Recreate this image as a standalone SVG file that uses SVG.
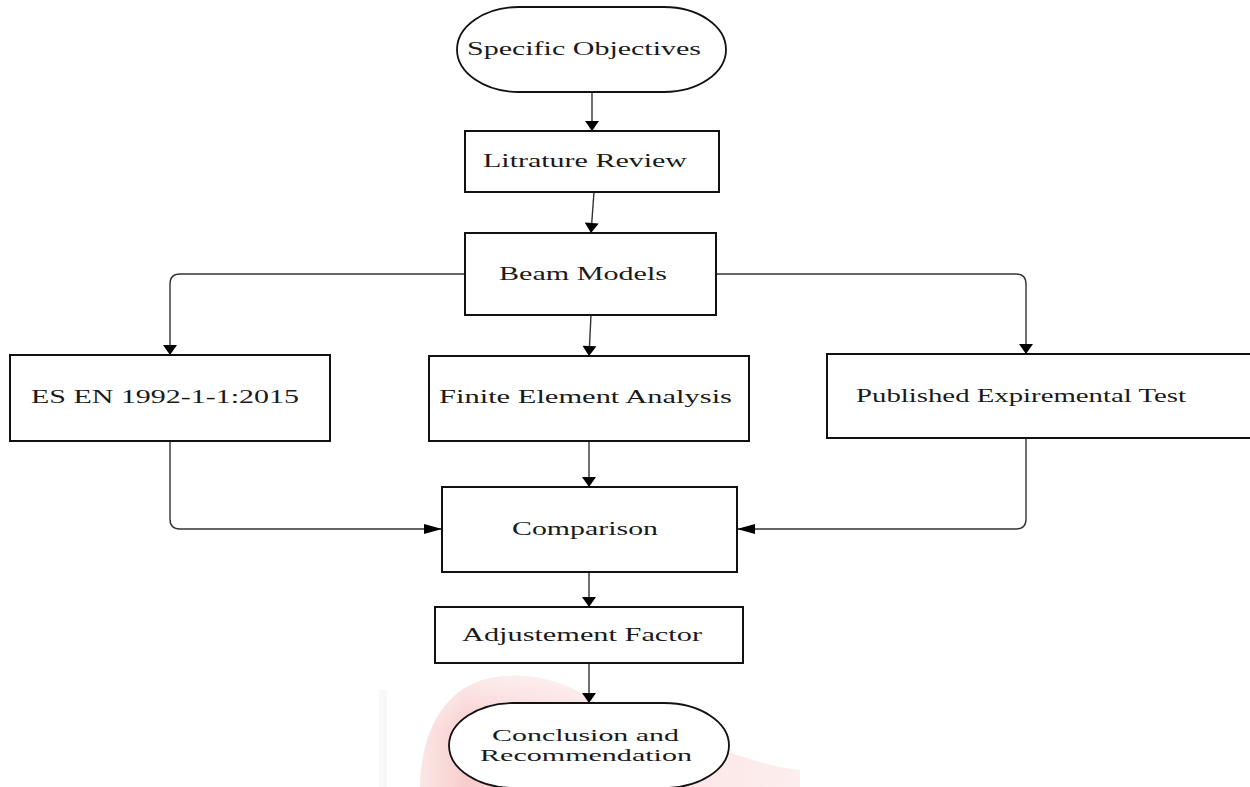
<svg xmlns="http://www.w3.org/2000/svg" width="1250" height="787" viewBox="0 0 1250 787">
<style>
.box{fill:#fff;stroke:#111;stroke-width:2}
.term{fill:#fff;stroke:#111;stroke-width:1.8}
.lbl{font-family:"Liberation Serif","Times New Roman",serif;font-size:19px;fill:#1a1a1a}
.small{font-size:17px}
.conn{fill:none;stroke:#333;stroke-width:1.4}
.down{marker-end:url(#ahDown)}
.side{marker-end:url(#ahSide)}
</style>
<defs>
<marker id="ahDown" markerUnits="userSpaceOnUse" markerWidth="14" markerHeight="14" viewBox="0 0 10 14" refX="10" refY="7" orient="auto">
<path d="M0,0 L10,7 L0,14 Z" fill="#000"/>
</marker>
<marker id="ahSide" markerUnits="userSpaceOnUse" markerWidth="18" markerHeight="10" viewBox="0 0 18 10" refX="18" refY="5" orient="auto">
<path d="M0,0 L18,5 L0,10 Z" fill="#000"/>
</marker>
<linearGradient id="wm" x1="0" y1="0" x2="1" y2="0">
<stop offset="0" stop-color="#f4b8b8" stop-opacity="0.35"/>
<stop offset="0.12" stop-color="#f29a9a" stop-opacity="0.5"/>
<stop offset="0.6" stop-color="#f5b0b0" stop-opacity="0.35"/>
<stop offset="1" stop-color="#f7c8c8" stop-opacity="0.3"/>
</linearGradient>
<linearGradient id="wmv" x1="0" y1="0" x2="0" y2="1">
<stop offset="0" stop-color="#fff" stop-opacity="0.6"/>
<stop offset="0.5" stop-color="#fff" stop-opacity="0"/>
</linearGradient>
</defs>
<rect width="1250" height="787" fill="#fff"/>
<g id="watermark">
<path d="M420,787 C421,732 444,684 497,677 C545,671 578,690 600,705 L700,740 C740,758 772,767 800,770 L800,787 Z" fill="url(#wm)"/>
<path d="M420,787 C421,732 444,684 497,677 C545,671 578,690 600,705 L700,740 C740,758 772,767 800,770 L800,787 Z" fill="url(#wmv)"/>
<rect x="379" y="690" width="8" height="97" fill="#f8f8f8"/>
</g>
<g id="connectors">
<path class="conn down" d="M592,92 L592,131"/>
<path class="conn down" d="M594,192 L591,233"/>
<path class="conn down" d="M465,274 L180,274 Q170,274 170,284 L170,355"/>
<path class="conn down" d="M591,315 L589,356"/>
<path class="conn down" d="M716,274 L1016,274 Q1026,274 1026,284 L1026,354"/>
<path class="conn side" d="M170,441 L170,519 Q170,529 180,529 L442,529"/>
<path class="conn down" d="M589,441 L589,487"/>
<path class="conn side" d="M1026,438 L1026,519 Q1026,529 1016,529 L737,529"/>
<path class="conn down" d="M589,572 L589,607"/>
<path class="conn down" d="M589,663 L589,703"/>
</g>
<g id="specific-objectives">
<rect class="term" x="457" y="7" width="269" height="85" rx="62" ry="42.5"/>
<text class="lbl" x="467" y="55" textLength="234" lengthAdjust="spacingAndGlyphs">Specific Objectives</text>
</g>
<g id="literature-review">
<rect class="box" x="465" y="131" width="254" height="61"/>
<text class="lbl" x="483" y="167" textLength="204" lengthAdjust="spacingAndGlyphs">Litrature Review</text>
</g>
<g id="beam-models">
<rect class="box" x="465" y="233" width="251" height="82"/>
<text class="lbl" x="499" y="280" textLength="168" lengthAdjust="spacingAndGlyphs">Beam Models</text>
</g>
<g id="es-en">
<rect class="box" x="10" y="355" width="320" height="86"/>
<text class="lbl" x="31" y="403" textLength="268" lengthAdjust="spacingAndGlyphs">ES EN 1992-1-1:2015</text>
</g>
<g id="fea">
<rect class="box" x="429" y="356" width="320" height="85"/>
<text class="lbl" x="439" y="403" textLength="293" lengthAdjust="spacingAndGlyphs">Finite Element Analysis</text>
</g>
<g id="published-test">
<rect class="box" x="827" y="354" width="440" height="84"/>
<text class="lbl" x="856" y="402" textLength="330" lengthAdjust="spacingAndGlyphs">Published Expiremental Test</text>
</g>
<g id="comparison">
<rect class="box" x="442" y="487" width="295" height="85"/>
<text class="lbl" x="512" y="535" textLength="146" lengthAdjust="spacingAndGlyphs">Comparison</text>
</g>
<g id="adjustment-factor">
<rect class="box" x="435" y="607" width="308" height="56"/>
<text class="lbl" x="462" y="641" textLength="240" lengthAdjust="spacingAndGlyphs">Adjustement Factor</text>
</g>
<g id="conclusion">
<rect class="term" x="449" y="703" width="280" height="85" rx="65" ry="42.5"/>
<text class="lbl small" x="492" y="741" textLength="187" lengthAdjust="spacingAndGlyphs">Conclusion and</text>
<text class="lbl small" x="480" y="761" textLength="212" lengthAdjust="spacingAndGlyphs">Recommendation</text>
</g>
</svg>
